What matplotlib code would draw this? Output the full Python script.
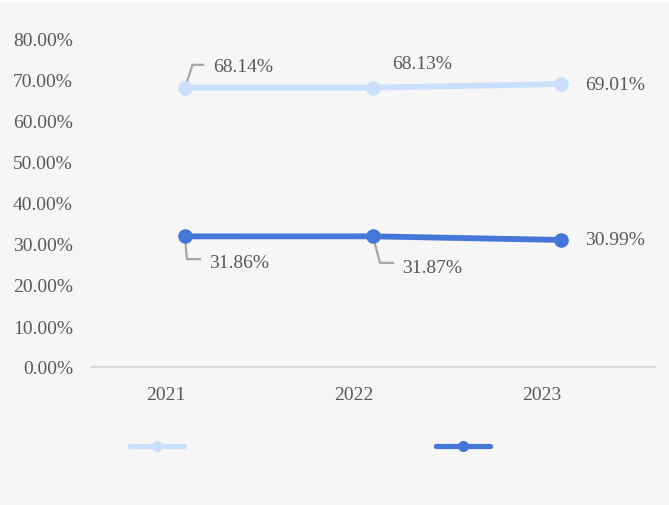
import matplotlib
matplotlib.use("Agg")
import matplotlib.pyplot as plt
from matplotlib.lines import Line2D
from matplotlib.transforms import ScaledTranslation

years = ["2021", "2022", "2023"]
series_a = [68.14, 68.13, 69.01]
series_b = [31.86, 31.87, 30.99]
yticks = [0, 10, 20, 30, 40, 50, 60, 70, 80]

c_a = "#cadffb"
c_b = "#4577d8"
txt = "#595959"
bg = "#f6f6f6"

plt.rcParams['font.family'] = ['Liberation Serif', 'DejaVu Serif']

fig = plt.figure(figsize=(6.69, 5.06), dpi=100)
fig.patch.set_facecolor("white")
fig.add_artist(plt.Rectangle((0, 0), 1, 1 - 4/506, transform=fig.transFigure,
                             facecolor=bg, edgecolor="none", zorder=-10))

W, H = 669, 506
left, right = 91, 655
top, bottom = 40, 368
ax = fig.add_axes([left / W, 1 - bottom / H, (right - left) / W, (bottom - top) / H])
ax.set_facecolor("none")

x = list(range(len(years)))
ax.plot(x, series_a, color=c_a, lw=4.2, marker="o", ms=9.5, solid_capstyle="round", zorder=3)
ax.plot(x, series_b, color=c_b, lw=4.2, marker="o", ms=9.5, solid_capstyle="round", zorder=3)

fs = 14
ax.set_xlim(-0.5, 2.5)
ax.set_ylim(0, 80)
ax.set_yticks(yticks)
ax.set_yticklabels([f"{v:.2f}%" for v in yticks])
ax.set_xticks(x)
ax.set_xticklabels(years)
ax.tick_params(axis="y", length=0, pad=13, labelsize=fs, labelcolor=txt)
ax.tick_params(axis="x", length=0, pad=14, labelsize=fs, labelcolor=txt)
for lab in ax.get_xticklabels():
    lab.set_transform(lab.get_transform() + ScaledTranslation(-19 / 100, 0, fig.dpi_scale_trans))
for s in ["top", "right", "left"]:
    ax.spines[s].set_visible(False)
ax.spines["bottom"].set_color("#d9d9d9")
ax.spines["bottom"].set_linewidth(1.5)

lead = "#a6a6a6"
def lab(xi, yv, dx, dy, ha="center"):
    ax.annotate(f"{yv:.2f}%", xy=(xi, yv), xytext=(dx / 1.389, dy / 1.389),
                textcoords="offset points", ha=ha, va="center", fontsize=fs, color=txt)

lab(0, series_a[0], 28, 21, ha="left")
ax.plot([0.0, 0.04, 0.096], [series_a[0], 73.7, 73.7], color=lead, lw=1.6, zorder=2)
lab(1, series_a[1], 49, 24)
lab(2, series_a[2], 54, 0)

lab(0, series_b[0], 54, -26)
ax.plot([0.0, 0.01, 0.08], [series_b[0], 26.3, 26.3], color=lead, lw=1.6, zorder=2)
lab(1, series_b[1], 59, -31)
ax.plot([1.0, 1.037, 1.106], [series_b[1], 25.4, 25.4], color=lead, lw=1.6, zorder=2)
lab(2, series_b[2], 54, 0)

# legend (no text)
ly = 1 - 447 / H
for (x0, x1), c in [((130, 184), c_a), ((436, 490), c_b)]:
    fig.add_artist(Line2D([x0 / W, x1 / W], [ly, ly], transform=fig.transFigure,
                          color=c, lw=3.8, solid_capstyle="round"))
    fig.add_artist(Line2D([(x0 + x1) / 2 / W], [ly], transform=fig.transFigure,
                          color=c, marker="o", ms=7, lw=0))

fig.savefig("out.png", dpi=100, facecolor=fig.get_facecolor())
